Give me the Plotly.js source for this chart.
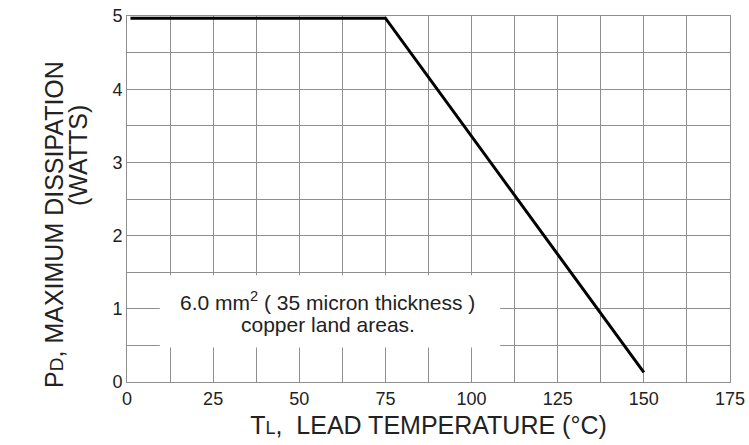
<!DOCTYPE html>
<html>
<head>
<meta charset="utf-8">
<script src="https://cdn.plot.ly/plotly-3.0.1.min.js"></script>
<style>html,body{margin:0;padding:0;background:#fff;}#chart{width:749px;height:445px;}</style>
</head>
<body>
<div id="chart"></div>
<script>
// Data
var temperature = [1, 75, 150];           // lead temperature (°C)
var dissipation = [4.97, 4.97, 0.13];     // max dissipation (W)
var xTicks = [0, 25, 50, 75, 100, 125, 150, 175];
var yTicks = [0, 1, 2, 3, 4, 5];
var noteLines = ["6.0 mm<sup>2</sup> ( 35 micron thickness )", "copper land areas."];
var yTitleLines = ['P<span style="font-size:19px">D</span>, MAXIMUM DISSIPATION', '(WATTS)'];
var xTitle = 'T<span style="font-size:18px">L</span>,  LEAD TEMPERATURE (°C)';

var gridCol = '#8f8f8f';
var fontFam = 'Liberation Sans, Arial, sans-serif';
var txtCol = '#222';

var trace = {
  x: temperature, y: dissipation, mode: 'lines', type: 'scatter',
  line: {color: '#000', width: 3}, hoverinfo: 'skip', showlegend: false
};

var layout = {
  width: 749, height: 445,
  margin: {l: 127, r: 19, t: 16, b: 63},
  paper_bgcolor: '#fff', plot_bgcolor: '#fff',
  font: {family: fontFam, color: txtCol},
  xaxis: {
    range: [0, 175], tickvals: xTicks, ticktext: xTicks.map(String),
    showgrid: true, gridcolor: gridCol, gridwidth: 1,
    minor: {dtick: 12.5, tick0: 0, showgrid: true, gridcolor: gridCol, gridwidth: 1},
    showline: true, linecolor: gridCol, linewidth: 1, mirror: true,
    ticks: '', tickfont: {size: 18, color: txtCol}, zeroline: false,
    title: {text: xTitle, font: {size: 25, color: txtCol}, standoff: 8}
  },
  yaxis: {
    range: [0, 5], tickvals: yTicks, ticktext: yTicks.map(String),
    showgrid: true, gridcolor: gridCol, gridwidth: 1,
    minor: {dtick: 0.5, tick0: 0, showgrid: true, gridcolor: gridCol, gridwidth: 1},
    showline: true, linecolor: gridCol, linewidth: 1, mirror: true,
    ticks: '', tickfont: {size: 18, color: txtCol}, zeroline: false
  },
  shapes: [{
    type: 'rect', xref: 'x', yref: 'y', x0: 9.5, x1: 108.3, y0: 0.47, y1: 1.46,
    fillcolor: '#fff', line: {width: 0}, layer: 'between'
  }],
  annotations: [
    {xref: 'x', yref: 'y', x: 58.3, y: 1.108, showarrow: false, text: noteLines[0],
     font: {size: 21, color: txtCol, family: fontFam}},
    {xref: 'x', yref: 'y', x: 58.3, y: 0.78, showarrow: false, text: noteLines[1],
     font: {size: 21, color: txtCol, family: fontFam}},
    {xref: 'paper', yref: 'paper', x: -0.1476, y: 0.432, showarrow: false, textangle: -90,
     text: yTitleLines[0], font: {size: 25, color: txtCol, family: fontFam}},
    {xref: 'paper', yref: 'paper', x: -0.1078, y: 0.620, showarrow: false, textangle: -90,
     text: yTitleLines[1], font: {size: 25, color: txtCol, family: fontFam}}
  ]
};

Plotly.newPlot('chart', [trace], layout, {staticPlot: true, displayModeBar: false});
</script>
</body>
</html>
